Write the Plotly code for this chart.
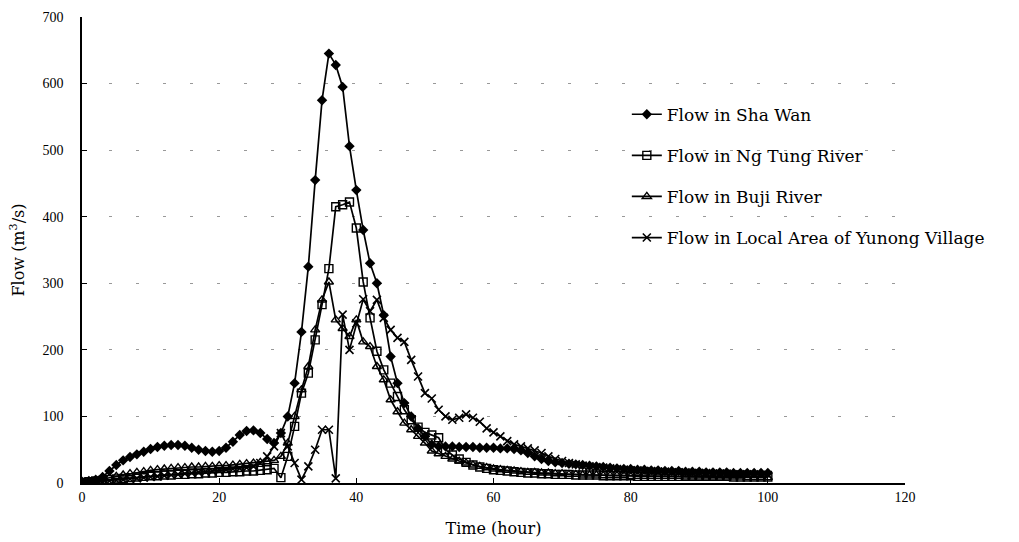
import plotly.graph_objects as go

hours = list(range(0, 101))

sha_wan = [
    2, 3, 5, 9, 18, 27, 34, 39, 43, 47,
    51, 54, 56, 57, 57, 56, 53, 50, 48, 47,
    48, 53, 62, 72, 78, 79, 75, 66, 60, 75,
    100, 150, 227, 325, 455, 575, 645, 628, 595, 506,
    440, 380, 330, 300, 252, 190, 150, 120, 100, 82,
    70, 58, 55, 55, 55, 54, 54, 54, 53, 53,
    53, 52, 52, 51, 49, 45, 40, 36, 33, 31,
    30, 29, 28, 27, 26, 25, 24, 23, 22, 21,
    21, 20, 20, 19, 19, 18, 18, 18, 17, 17,
    17, 16, 16, 16, 16, 15, 15, 15, 15, 15,
    15,
]

ng_tung = [
    1, 2, 3, 4, 5, 6, 7, 8, 9, 10,
    11, 11, 12, 12, 13, 13, 14, 14, 15, 15,
    16, 16, 17, 17, 18, 18, 19, 20, 22, 8,
    40, 85, 135, 165, 215, 268, 322, 415, 418, 422,
    383, 302, 248, 198, 170, 150, 130, 110, 95, 84,
    76, 72, 68, 50, 42, 36, 31, 27, 24, 22,
    20, 19, 18, 17, 16, 15, 15, 14, 14, 13,
    13, 13, 12, 12, 12, 12, 11, 11, 11, 11,
    11, 10, 10, 10, 10, 10, 10, 10, 10, 10,
    10, 10, 10, 10, 10, 9, 9, 9, 9, 9,
    9,
]

buji = [
    1, 2, 4, 6, 8, 10, 12, 14, 16, 17,
    19, 20, 21, 22, 23, 23, 24, 24, 25, 25,
    26, 26, 27, 28, 29, 30, 31, 32, 34, 40,
    60, 100, 140, 175, 230, 275, 302, 245, 232, 220,
    245, 212, 205, 175, 155, 125, 107, 90, 80, 70,
    60, 48, 44, 40, 36, 33, 30, 27, 25, 23,
    21, 20, 19, 18, 17, 16, 16, 15, 15, 14,
    14, 13, 13, 12, 12, 12, 11, 11, 11, 11,
    10, 10, 10, 10, 10, 10, 10, 10, 9, 9,
    9, 9, 9, 9, 9, 9, 9, 8, 8, 8,
    8,
]

yunong = [
    0, 1, 1, 2, 3, 4, 5, 6, 7, 8,
    9, 10, 11, 12, 13, 14, 15, 16, 17, 18,
    19, 20, 21, 22, 23, 25, 30, 40, 55, 75,
    55, 30, 5, 25, 50, 80, 80, 7, 253, 200,
    240, 276, 258, 275, 248, 230, 218, 212, 185, 160,
    135, 127, 110, 100, 95, 98, 103, 98, 92, 82,
    76, 70, 63, 58, 55, 52, 49, 45, 40, 36,
    33, 30, 28, 26, 25, 24, 23, 22, 21, 20,
    19, 19, 18, 18, 17, 17, 16, 16, 16, 15,
    15, 15, 14, 14, 14, 13, 13, 13, 13, 12,
    12,
]

series_names = [
    "Flow in Sha Wan",
    "Flow in Ng Tung River",
    "Flow in Buji River",
    "Flow in Local Area of Yunong Village",
]
x_ticks = [0, 20, 40, 60, 80, 100, 120]
y_ticks = [0, 100, 200, 300, 400, 500, 600, 700]

FONT = "Liberation Serif, Times New Roman, serif"
WIDE = "DejaVu Serif, serif"

styles = [
    dict(symbol="diamond", size=8, color="black", line=dict(width=0)),
    dict(symbol="square-open", size=8, color="black", line=dict(width=1.4)),
    dict(symbol="triangle-up-open", size=8, color="black", line=dict(width=1.4)),
    dict(symbol="x-thin-open", size=8, color="black", line=dict(width=1.6, color="black")),
]

fig = go.Figure()
for i, (name, ys) in enumerate(zip(series_names, [sha_wan, ng_tung, buji, yunong])):
    fig.add_trace(go.Scatter(
        x=hours, y=ys, name=name, mode="lines+markers",
        line=dict(color="black", width=1.7),
        marker=styles[i],
        legendgroup=f"g{i}",
    ))

fig.update_layout(
    width=1019, height=542,
    margin=dict(l=82, r=114, t=17, b=59, autoexpand=False),
    plot_bgcolor="white", paper_bgcolor="white",
    font=dict(family=FONT, color="black", size=14),
    showlegend=True,
    legend=dict(
        x=0.662, y=0.829, xanchor="left", yanchor="top",
        bgcolor="rgba(0,0,0,0)", font=dict(size=17, family=WIDE),
        tracegroupgap=16, itemwidth=30,
    ),
)
fig.update_xaxes(
    range=[0, 120], tickvals=x_ticks, automargin=False,
    showline=True, linecolor="black", linewidth=1.5,
    ticks="inside", ticklen=5, tickcolor="black",
    showgrid=False, zeroline=False,
    title=dict(text="Time (hour)", font=dict(size=16, family=WIDE), standoff=19),
)
fig.update_yaxes(
    range=[0, 700], tickvals=y_ticks, automargin=False,
    showline=True, linecolor="black", linewidth=1.5,
    ticks="inside", ticklen=5, tickcolor="black",
    showgrid=True, gridcolor="#999999", gridwidth=1, griddash="3px,24px",
    zeroline=False, ticklabelstandoff=14,
    title=dict(text="Flow (m<sup>3</sup>/s)", font=dict(size=16, family=WIDE), standoff=14),
)

fig.write_html("out.html")
